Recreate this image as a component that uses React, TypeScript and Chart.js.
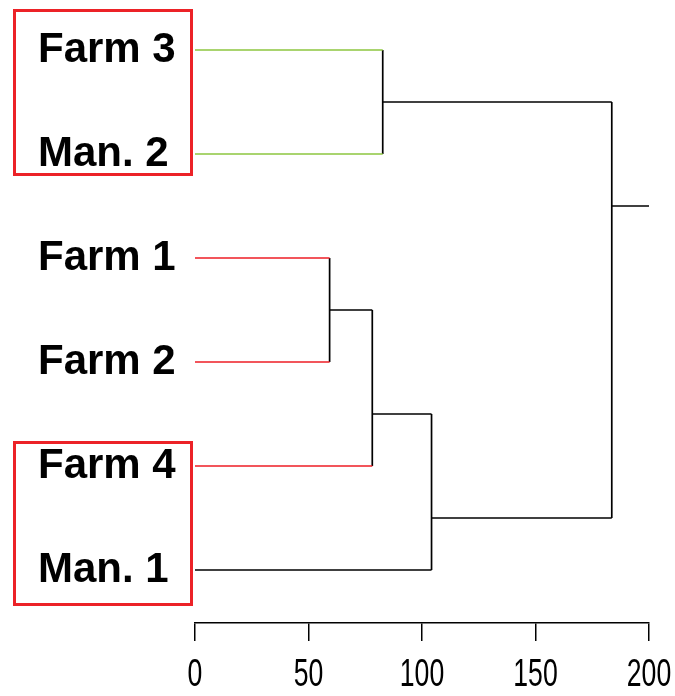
import React, { useEffect, useRef } from "react";
import { Chart, registerables } from "chart.js";

Chart.register(...registerables);

// Leaves, top to bottom
const leafLabels = ["Farm 3", "Man. 2", "Farm 1", "Farm 2", "Farm 4", "Man. 1"];
const leafColors = ["#8cc63f", "#8cc63f", "#ee1c25", "#ee1c25", "#ee1c25", "#000000"];

// Merges (R convention: negative = leaf number, positive = earlier merge number)
const mergeLeft = [-3, 1, -1, 2, 3];
const mergeRight = [-4, -5, -2, -6, 4];
const mergeHeights = [59.3, 78.1, 82.7, 104.2, 183.6];
// vertical position of each merge's stem (in leaf units)
const mergePositions = [2.5, 3.5, 0.5, 4.5, 1.5];
const rootStemEnd = 200;

// x axis ticks
const xTicks = [0, 50, 100, 150, 200];

// highlighted leaf groups (first leaf, last leaf)
const boxGroups = [
  [0, 1],
  [4, 5],
];

function posOf(ref: number): number {
  return ref < 0 ? -ref - 1 : mergePositions[ref - 1];
}

function parentHeight(ref: number): number {
  for (let k = 0; k < mergeLeft.length; k++) {
    if (mergeLeft[k] === ref || mergeRight[k] === ref) return mergeHeights[k];
  }
  return rootStemEnd;
}

function buildDatasets() {
  const sets: any[] = [];
  const seg = (x1: number, y1: number, x2: number, y2: number, color: string) => ({
    data: [
      { x: x1, y: y1 },
      { x: x2, y: y2 },
    ],
    showLine: true,
    borderColor: color,
    backgroundColor: color,
    borderWidth: 1.7,
    pointRadius: 0,
    pointHoverRadius: 0,
    clip: false,
  });
  leafLabels.forEach((_, i) => {
    const ref = -(i + 1);
    sets.push(seg(0, i, parentHeight(ref), i, leafColors[i]));
  });
  mergeHeights.forEach((h, k) => {
    const ref = k + 1;
    sets.push(seg(h, mergePositions[k], parentHeight(ref), mergePositions[k], "#000000"));
  });
  mergeHeights.forEach((h, k) => {
    sets.push(seg(h, posOf(mergeLeft[k]), h, posOf(mergeRight[k]), "#000000"));
  });
  return sets;
}

const boxPlugin = {
  id: "leafBoxes",
  afterDraw(chart: any) {
    const ctx = chart.ctx;
    const y = chart.scales.y;
    ctx.save();
    ctx.strokeStyle = "#ec2227";
    ctx.lineWidth = 3;
    const pads = [
      [-39.5, 20.5],
      [-23.5, 34.5],
    ];
    boxGroups.forEach(([a, b], i) => {
      const top = y.getPixelForValue(a) + pads[i][0];
      const bottom = y.getPixelForValue(b) + pads[i][1];
      ctx.strokeRect(14.5, top, 177, bottom - top);
    });
    ctx.restore();
  },
};

// Draw the x-axis tick labels horizontally condensed (narrow font look)
const narrowXLabels = {
  id: "narrowXLabels",
  afterLayout(chart: any) {
    const s = chart.scales.x;
    if (!s || s.__narrow) return;
    const orig = s.drawLabels.bind(s);
    s.drawLabels = (area: any) => {
      const ctx = s.ctx;
      const rot = ctx.rotate;
      ctx.rotate = function (a: number) {
        rot.call(this, a);
        this.scale(0.7, 1);
      };
      try {
        orig(area);
      } finally {
        ctx.rotate = rot;
        delete ctx.rotate;
      }
    };
    s.__narrow = true;
  },
};

export default function App() {
  const ref = useRef<HTMLCanvasElement | null>(null);
  useEffect(() => {
    if (!ref.current) return;
    const chart = new Chart(ref.current, {
      type: "scatter",
      data: { datasets: buildDatasets() },
      plugins: [boxPlugin, narrowXLabels],
      options: {
        responsive: false,
        animation: false,
        events: [],
        layout: { padding: { top: 10, left: 38, right: 26, bottom: 0 } },
        plugins: { legend: { display: false }, tooltip: { enabled: false } },
        scales: {
          x: {
            type: "linear",
            position: "bottom",
            min: 0,
            max: 200,
            afterBuildTicks: (s: any) => {
              s.ticks = xTicks.map((v) => ({ value: v }));
            },
            afterFit: (s: any) => {
              s.height = 73;
              s.paddingLeft = 0;
              s.paddingRight = 0;
            },
            grid: {
              drawOnChartArea: false,
              drawTicks: true,
              tickLength: 18,
              color: "#000000",
              lineWidth: 1.5,
            },
            border: { display: true, color: "#000000", width: 1.5 },
            ticks: {
              color: "#000000",
              padding: 12,
              maxRotation: 0,
              autoSkip: false,
              font: {
                family: "'Liberation Sans', Arial, Helvetica, sans-serif",
                size: 38,
              },
            },
          },
          y: {
            type: "linear",
            position: "left",
            reverse: true,
            min: -40 / 104,
            max: 5 + 53 / 104,
            afterBuildTicks: (s: any) => {
              s.ticks = leafLabels.map((_, i) => ({ value: i }));
            },
            afterFit: (s: any) => {
              s.width = 157;
              s.paddingTop = 0;
              s.paddingBottom = 0;
            },
            grid: { display: false, drawTicks: false },
            border: { display: false },
            ticks: {
              crossAlign: "far",
              color: "#000000",
              autoSkip: false,
              callback: (v: any) => leafLabels[Math.round(Number(v))] ?? "",
              font: {
                family: "'Liberation Sans', Arial, Helvetica, sans-serif",
                size: 42,
                weight: "bold",
              },
            },
          },
        },
      },
    } as any);
    return () => chart.destroy();
  }, []);
  return (
    <div style={{ position: "absolute", left: 0, top: 0, width: 675, height: 696, background: "#ffffff" }}>
      <canvas ref={ref} width={675} height={696} style={{ display: "block" }} />
    </div>
  );
}
